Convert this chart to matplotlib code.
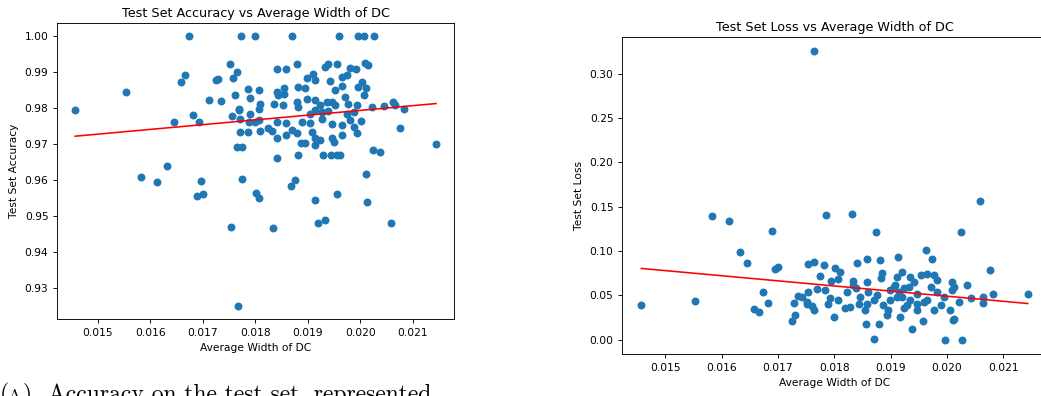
import matplotlib.pyplot as plt
import numpy as np

# Accuracy plot: (average width of DC, test set accuracy)
acc_width = [
    0.014568, 0.015533, 0.016733, 0.01658, 0.016663, 0.016453, 0.016821, 0.016935,
    0.01583, 0.016124, 0.016326, 0.016973, 0.016897, 0.017, 0.017533, 0.017667,
    0.01752, 0.017648, 0.01757, 0.01725, 0.01729, 0.017114, 0.017354, 0.017615,
    0.017697, 0.017558, 0.01771, 0.017869, 0.017648, 0.017754, 0.017754, 0.017863,
    0.0179, 0.017724, 0.018, 0.0179, 0.018, 0.018707, 0.018072, 0.01841,
    0.018581, 0.01879, 0.01898, 0.01909, 0.01914, 0.01933, 0.01939, 0.01942,
    0.01881, 0.01895, 0.01841, 0.01855, 0.01844, 0.01855, 0.01809, 0.01769,
    0.01806, 0.01836, 0.01852, 0.01879, 0.01898, 0.01914, 0.01923, 0.01936,
    0.01946, 0.01882, 0.01904, 0.01914, 0.01927, 0.01939, 0.01771, 0.01787,
    0.01806, 0.01825, 0.01841, 0.01858, 0.01889, 0.01904, 0.01927, 0.01946,
    0.01808, 0.01831, 0.01842, 0.01858, 0.01870, 0.01879, 0.01908, 0.01914,
    0.01923, 0.01946, 0.01887, 0.01895, 0.01914, 0.01929, 0.01944, 0.01882,
    0.01841, 0.01875, 0.01868, 0.01801, 0.01806, 0.01913, 0.01833, 0.01920,
    0.01933, 0.0196, 0.01996, 0.02006, 0.02025, 0.01956, 0.01981, 0.01991,
    0.02008, 0.02014, 0.01965, 0.01974, 0.02003, 0.01996, 0.02011, 0.01965,
    0.01952, 0.01971, 0.02006, 0.01952, 0.01977, 0.01993, 0.02023, 0.02044,
    0.02062, 0.02066, 0.02083, 0.02144, 0.02076, 0.01974, 0.01987, 0.01981,
    0.02001, 0.01965, 0.01987, 0.01993, 0.01965, 0.0195, 0.01955, 0.01962,
    0.02024, 0.02038, 0.02011, 0.01956, 0.02012, 0.02058,
]
accuracy = [
    0.9794, 0.9846, 1.000, 0.9873, 0.9893, 0.9761, 0.9781, 0.9761,
    0.9609, 0.9593, 0.9639, 0.9597, 0.9554, 0.9561, 0.9469, 0.925,
    0.9922, 0.990, 0.9883, 0.9879, 0.9881, 0.9824, 0.9820, 0.9837,
    0.9796, 0.9779, 0.9735, 0.9735, 0.9691, 0.9691, 0.9602, 0.9853,
    0.9828, 1.0, 1.0, 0.9783, 0.9761, 1.0, 0.985, 0.9908,
    0.9908, 0.9922, 0.9884, 0.9894, 0.9878, 0.9915, 0.9924, 0.9875,
    0.9858, 0.9855, 0.9845, 0.9855, 0.9836, 0.9841, 0.9813, 0.9799,
    0.9799, 0.9813, 0.9810, 0.9818, 0.9827, 0.9822, 0.9808, 0.9818,
    0.9818, 0.9804, 0.9785, 0.9794, 0.9790, 0.9792, 0.9771, 0.9762,
    0.9767, 0.9744, 0.9762, 0.9760, 0.9762, 0.9758, 0.9771, 0.9755,
    0.9736, 0.9736, 0.9718, 0.9725, 0.9739, 0.9730, 0.9734, 0.9716,
    0.9711, 0.9716, 0.9702, 0.9702, 0.9697, 0.9669, 0.9669, 0.9669,
    0.9662, 0.9600, 0.9582, 0.9563, 0.9549, 0.9543, 0.9466, 0.9479,
    0.9488, 1.0, 1.0, 1.0, 1.0, 0.9922, 0.9912, 0.9908,
    0.9926, 0.9921, 0.9887, 0.9892, 0.9873, 0.9859, 0.9856, 0.9861,
    0.985, 0.9831, 0.9836, 0.9808, 0.9813, 0.9808, 0.9804, 0.9806,
    0.9818, 0.9810, 0.9799, 0.970, 0.9744, 0.9785, 0.9790, 0.9767,
    0.9764, 0.9753, 0.9748, 0.9730, 0.9725, 0.9706, 0.9669, 0.9671,
    0.9683, 0.9677, 0.9617, 0.9560, 0.9538, 0.9479,
]
# trend line values at the smallest and largest width
acc_trend = [0.9722, 0.9813]

# Loss plot: (average width of DC, test set loss)
loss_width = [
    0.014578, 0.01553, 0.01584, 0.01613, 0.01632, 0.01646, 0.01657, 0.01666,
    0.01673, 0.01683, 0.0169, 0.01694, 0.0170, 0.01725, 0.0173, 0.01729,
    0.01736, 0.01752, 0.01753, 0.01754, 0.017644, 0.02058, 0.01786, 0.01832,
    0.01874, 0.02024, 0.01962, 0.01764, 0.01782, 0.0184, 0.01858, 0.01881,
    0.01913, 0.01973, 0.02076, 0.02143, 0.02082, 0.02063, 0.02063, 0.02042,
    0.02021, 0.02009, 0.02012, 0.01996, 0.02026, 0.01871, 0.01856, 0.0188,
    0.01937, 0.01957, 0.0201, 0.018, 0.01917, 0.01764, 0.01742, 0.01801,
    0.0181, 0.01775, 0.01795, 0.01807, 0.01833, 0.01858, 0.01885, 0.01882,
    0.01911, 0.0192, 0.01935, 0.01953, 0.01965, 0.01977, 0.01983, 0.02036,
    0.01769, 0.01751, 0.0176, 0.01783, 0.01792, 0.01789, 0.01807, 0.01822,
    0.01839, 0.01843, 0.01855, 0.01859, 0.01876, 0.01887, 0.01896, 0.01899,
    0.01908, 0.01914, 0.0192, 0.01929, 0.01932, 0.01947, 0.01959, 0.01947,
    0.01971, 0.01983, 0.01994, 0.01989, 0.02006, 0.02012, 0.02009, 0.01976,
    0.01965, 0.01905, 0.01923, 0.01935, 0.01911, 0.01941, 0.01899, 0.01947,
    0.01923, 0.01834, 0.01845, 0.01828, 0.01819, 0.01870, 0.01894, 0.01858,
]
loss = [
    0.0391, 0.0433, 0.1391, 0.1342, 0.0984, 0.086, 0.0346, 0.0309,
    0.0539, 0.0414, 0.1225, 0.0792, 0.0821, 0.021, 0.0275, 0.0414,
    0.049, 0.0399, 0.0852, 0.0535, 0.3253, 0.1568, 0.1403, 0.1421,
    0.1217, 0.1217, 0.101, 0.0878, 0.084, 0.086, 0.0905, 0.0897,
    0.0928, 0.0905, 0.0784, 0.052, 0.0512, 0.0475, 0.0414, 0.0464,
    0.0425, 0.0652, 0.0588, 0.0, 0.0, 0.0011, 0.0181, 0.0173,
    0.0124, 0.021, 0.0226, 0.0256, 0.0256, 0.0331, 0.0482, 0.0803,
    0.0765, 0.0716, 0.0663, 0.0679, 0.0663, 0.0652, 0.0747, 0.069,
    0.0708, 0.0765, 0.0708, 0.0727, 0.0739, 0.0727, 0.0671, 0.0614,
    0.0566, 0.0425, 0.0377, 0.0558, 0.0464, 0.0407, 0.0445, 0.0539,
    0.0577, 0.0407, 0.0331, 0.0539, 0.0501, 0.0388, 0.0331, 0.0445,
    0.0614, 0.0539, 0.0482, 0.0388, 0.0595, 0.052, 0.0425, 0.0331,
    0.0595, 0.0539, 0.0482, 0.0388, 0.0331, 0.0237, 0.0558, 0.0331,
    0.0445, 0.0595, 0.0577, 0.0445, 0.0482, 0.0652, 0.0558, 0.0407,
    0.0351, 0.0614, 0.0482, 0.0369, 0.0351, 0.0445, 0.0275, 0.0407,
]
loss_trend = [0.0803, 0.0407]

x_ticks = [0.015, 0.016, 0.017, 0.018, 0.019, 0.020, 0.021]
caption = "Accuracy on the test set, represented"

plt.rcParams["font.size"] = 7.7
plt.rcParams["axes.linewidth"] = 0.65
plt.rcParams["xtick.major.size"] = 2.7
plt.rcParams["ytick.major.size"] = 2.7
plt.rcParams["xtick.major.width"] = 0.65
plt.rcParams["ytick.major.width"] = 0.65

fig = plt.figure(figsize=(10.41, 3.96), dpi=100)
ax1 = fig.add_axes([0.0548, 0.1944, 0.3814, 0.7475])
ax2 = fig.add_axes([0.5975, 0.1061, 0.4083, 0.8005])


def scatter_with_trend(ax, x, y, trend, title, ylabel):
    ax.scatter(x, y, s=22, color="#1f77b4", zorder=2)
    # trend line spans the range of widths
    ax.plot([min(x), max(x)], trend, color="red", linewidth=1.15, zorder=3)
    ax.set_title(title, fontsize=9.2, pad=4.5)
    ax.set_xlabel("Average Width of DC")
    ax.set_ylabel(ylabel)
    ax.set_xticks(x_ticks)


scatter_with_trend(ax1, acc_width, accuracy, acc_trend,
                   "Test Set Accuracy vs Average Width of DC", "Test Set Accuracy")
ax1.set_yticks([0.93, 0.94, 0.95, 0.96, 0.97, 0.98, 0.99, 1.00])

scatter_with_trend(ax2, loss_width, loss, loss_trend,
                   "Test Set Loss vs Average Width of DC", "Test Set Loss")
ax2.set_yticks([0.00, 0.05, 0.10, 0.15, 0.20, 0.25, 0.30])

# Caption of the subfigure, cut off by the bottom edge as in the source page
fig.text(0.0, -0.012, "(", family="cmr10", fontsize=17, va="baseline")
fig.text(0.0075, -0.012, "A", family="cmr10", fontsize=13, va="baseline")
fig.text(0.022, -0.012, ")", family="cmr10", fontsize=17, va="baseline")
fig.text(0.046, -0.012, caption, family="cmr10", fontsize=17, va="baseline")

fig.savefig("out.png", dpi=100)
